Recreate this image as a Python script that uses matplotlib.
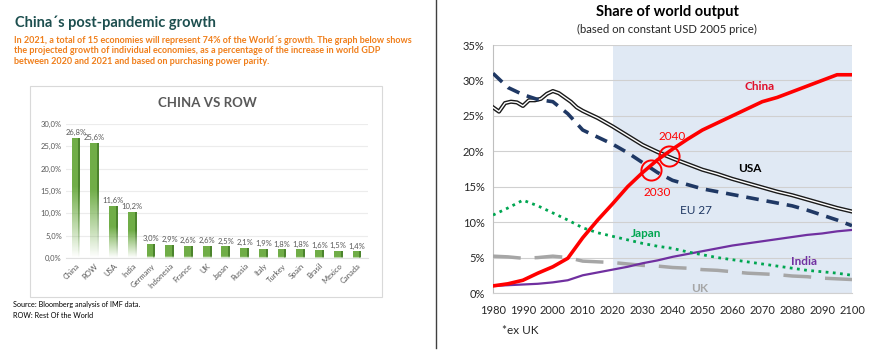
import numpy as np
import matplotlib
matplotlib.use("Agg")
from matplotlib import pyplot as plt
from matplotlib.patches import Rectangle
from matplotlib.lines import Line2D

plt.rcParams['font.family'] = ['Lato', 'DejaVu Sans']

# ---- left chart data (China vs ROW) ----
countries = ['China', 'ROW', 'USA', 'India', 'Germany', 'Indonesia', 'France', 'UK',
             'Japan', 'Russia', 'Italy', 'Turkey', 'Spain', 'Brasil', 'Mexico', 'Canada']
growth = [26.8, 25.6, 11.6, 10.2, 3.0, 2.9, 2.6, 2.6, 2.5, 2.1, 1.9, 1.8, 1.8, 1.6, 1.5, 1.4]

# ---- right chart data (share of world output, %) ----
years = [1980, 1985, 1990, 1995, 2000, 2005, 2010, 2015, 2020, 2025, 2030, 2035, 2040,
         2045, 2050, 2055, 2060, 2065, 2070, 2075, 2080, 2085, 2090, 2095, 2100]
china = [1.0, 1.3, 1.8, 2.8, 3.7, 4.9, 7.8, 10.3, 12.6, 15.0, 17.0, 18.8, 20.3,
         21.7, 23.0, 24.0, 25.0, 26.0, 27.0, 27.6, 28.4, 29.2, 30.0, 30.8, 30.8]
eu27 = [31.0, 29.0, 28.0, 27.3, 27.0, 25.3, 23.0, 22.0, 21.0, 19.8, 18.4, 17.0, 15.9,
        15.3, 14.7, 14.3, 13.9, 13.5, 13.1, 12.7, 12.3, 11.7, 11.0, 10.3, 9.5]
usa_years = [1980, 1982, 1984, 1986, 1988, 1990, 1992, 1994, 1996, 1998, 2000, 2002,
             2004, 2006, 2008, 2010, 2015, 2020, 2025, 2030, 2035, 2040, 2045, 2050,
             2055, 2060, 2065, 2070, 2075, 2080, 2085, 2090, 2095, 2100]
usa = [26.2, 25.6, 26.8, 27.0, 26.9, 26.4, 27.2, 27.2, 27.4, 28.1, 28.5, 28.2,
       27.6, 27.0, 26.2, 25.7, 24.7, 23.5, 22.2, 20.9, 19.9, 19.0, 18.2, 17.4,
       16.8, 16.1, 15.5, 14.9, 14.3, 13.8, 13.2, 12.6, 12.0, 11.5]
japan = [11.0, 12.0, 13.1, 12.3, 11.3, 10.3, 9.2, 8.5, 8.0, 7.5, 7.0, 6.6, 6.3,
         5.8, 5.4, 5.0, 4.7, 4.4, 4.1, 3.8, 3.5, 3.2, 3.0, 2.8, 2.5]
india = [1.0, 1.1, 1.2, 1.3, 1.5, 1.8, 2.5, 2.9, 3.3, 3.7, 4.2, 4.6, 5.1,
         5.5, 5.9, 6.3, 6.7, 7.0, 7.3, 7.6, 7.9, 8.2, 8.4, 8.7, 8.9]
uk = [5.2, 5.1, 4.9, 5.0, 5.2, 5.0, 4.5, 4.4, 4.3, 4.1, 3.9, 3.8, 3.6,
      3.5, 3.3, 3.2, 3.0, 2.8, 2.7, 2.6, 2.4, 2.3, 2.1, 2.0, 1.9]
crossings = [(2032.8, 17.3), (2038.8, 19.3)]

W, H = 873, 351
fig = plt.figure(figsize=(W / 100, H / 100), dpi=100)


def fx(x):
    return x / W


def fy(y):
    return 1 - y / H


# ================= left panel =================
fig.text(fx(15), fy(23), 'China´s post-pandemic growth', fontsize=10.5, weight='bold',
         color='#1d4f4f', va='center')
intro = ['In 2021, a total of 15 economies will represent 74% of the World´s growth. The graph below shows',
         'the projected growth of individual economies, as a percentage of the increase in world GDP',
         'between 2020 and 2021 and based on purchasing power parity.']
for i, line in enumerate(intro):
    fig.text(fx(14), fy(40 + i * 10.5), line, fontsize=6.5, weight='bold', color='#f07e1a', va='center')

fig.patches.append(Rectangle((fx(30), fy(297)), 352 / W, 211 / H, transform=fig.transFigure,
                             fill=False, ec='#d9d9d9', lw=0.8))
fig.text(fx(207), fy(103), 'CHINA VS ROW', fontsize=9.5, weight='bold', color='#595959',
         ha='center', va='center')
fig.text(fx(13), fy(304), 'Source: Bloomberg analysis of IMF data.', fontsize=5.2, va='center')
fig.text(fx(13), fy(316), 'ROW: Rest Of the World', fontsize=5.2, va='center')

ax1 = fig.add_axes([fx(66), fy(258), 302 / W, 134 / H])
x = np.arange(len(countries))
bw = 0.46
green = np.array([0.44, 0.68, 0.28])
dark = np.array([0.30, 0.52, 0.18])
t = np.linspace(0, 1, 100).reshape(-1, 1)
for xi, h in zip(x, growth):
    fade = 0.6 if h > 5 else 0.15
    alpha = np.clip(t / fade, 0, 1)
    for col, x0, x1 in [(green, xi - bw / 2, xi + bw / 2 - 0.1), (dark, xi + bw / 2 - 0.1, xi + bw / 2)]:
        img = np.zeros((100, 1, 4))
        img[:, :, :3] = col
        img[:, :, 3] = alpha
        ax1.imshow(img, extent=[x0, x1, 0, h], origin='lower', aspect='auto', zorder=3)
    ax1.text(xi, h + 0.5, f'{h:.1f}%'.replace('.', ','), ha='center', va='bottom',
             fontsize=5.5, color='#595959')
ax1.set_xlim(-0.53, 15.59)
ax1.set_ylim(0, 30)
ax1.set_yticks(np.arange(0, 31, 5))
ax1.set_yticklabels([f'{v:.1f}%'.replace('.', ',') for v in np.arange(0, 31, 5)])
ax1.set_xticks(x)
ax1.set_xticklabels(countries, rotation=45, ha='right', rotation_mode='anchor')
ax1.tick_params(length=0, labelsize=5.5, colors='#595959', pad=3)
ax1.grid(axis='y', color='#ececec', lw=0.8, zorder=0)
for s in ax1.spines.values():
    s.set_visible(False)
ax1.spines['bottom'].set_visible(True)
ax1.spines['bottom'].set_color('#e0e0e0')

# divider
fig.lines.append(Line2D([fx(435.5), fx(435.5)], [fy(0), fy(348)], transform=fig.transFigure,
                        color='#404040', lw=1))

# ================= right panel =================
fig.text(fx(667), fy(12), 'Share of world output', fontsize=10.5, weight='bold',
         ha='center', va='center')
fig.text(fx(667), fy(29), '(based on constant USD 2005 price)', fontsize=8.2,
         ha='center', va='center', color='#262626')
fig.text(fx(502), fy(330), '*ex UK', fontsize=8.5, va='center', color='#262626')

ax2 = fig.add_axes([fx(493), fy(293), 359 / W, 248 / H])
ax2.axvspan(2020, 2100, color='#e0e9f4', lw=0, zorder=0)
ax2.plot(years, uk, color='#a6a6a6', lw=2.5, dashes=(8, 4), zorder=3)
ax2.plot(years, india, color='#7030a0', lw=1.6, zorder=3)
ax2.plot(years, japan, color='#00a651', lw=2, linestyle=(0, (1, 1.6)), zorder=3)
ax2.plot(usa_years, usa, color='#1a1a1a', lw=3, zorder=4)
ax2.plot(usa_years, usa, color='white', lw=1, zorder=4)
ax2.plot(years, eu27, color='#1f3864', lw=2.6, dashes=(3.5, 2.2), zorder=4)
ax2.plot(years, china, color='#ff0000', lw=2.6, zorder=5)
for cx, cy in crossings:
    ax2.plot(cx, cy, 'o', ms=14.5, mfc='none', mec='#ff0000', mew=1.4, zorder=6)

ax2.text(2069, 29.1, 'China', color='#e0102a', fontsize=8.5, weight='bold', ha='center', va='center')
ax2.text(2040, 22.1, '2040', color='#ff0000', fontsize=8.5, ha='center', va='center')
ax2.text(2035, 14.2, '2030', color='#ff0000', fontsize=8.5, ha='center', va='center')
ax2.text(2066, 17.6, 'USA', color='black', fontsize=8.5, weight='bold', ha='center', va='center')
ax2.text(2048, 11.7, 'EU 27', color='#1f3864', fontsize=8.5, ha='center', va='center')
ax2.text(2031, 8.4, 'Japan', color='#00a651', fontsize=8.5, weight='bold', ha='center', va='center')
ax2.text(2084, 4.4, 'India', color='#7030a0', fontsize=8.5, weight='bold', ha='center', va='center')
ax2.text(2049, 0.6, 'UK', color='#a6a6a6', fontsize=8.5, weight='bold', ha='center', va='center')

ax2.set_xlim(1980, 2100)
ax2.set_ylim(0, 35)
ax2.set_xticks(np.arange(1980, 2101, 10))
ax2.set_yticks(np.arange(0, 36, 5))
ax2.set_yticklabels([f'{v}%' for v in np.arange(0, 36, 5)])
ax2.tick_params(length=0, labelsize=8, colors='#262626', pad=6)
ax2.tick_params(axis='x', pad=9)
ax2.grid(axis='y', color='#d0d0d0', lw=0.8, zorder=1)
ax2.set_axisbelow(True)
for s in ['top', 'right']:
    ax2.spines[s].set_visible(False)
ax2.spines['left'].set_color('#bfbfbf')
ax2.spines['bottom'].set_color('#d0d0d0')

fig.savefig('out.png', dpi=100)
